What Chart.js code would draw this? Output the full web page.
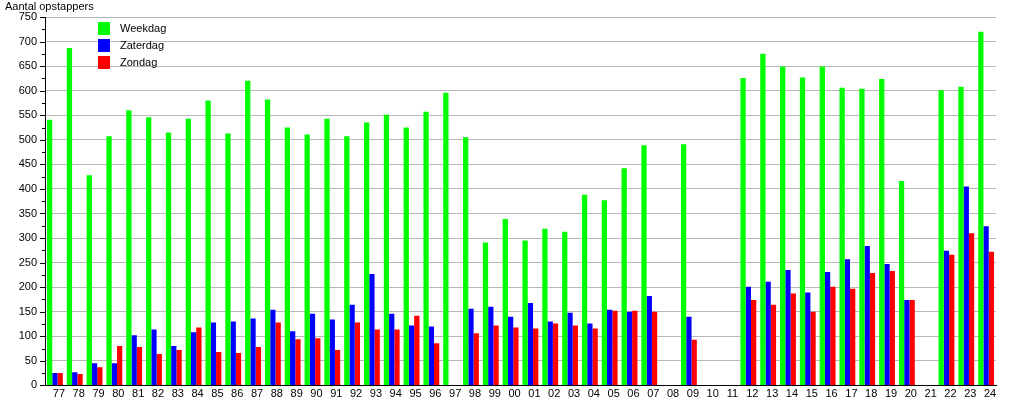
<!DOCTYPE html>
<html>
<head>
<meta charset="utf-8">
<script src="https://cdn.jsdelivr.net/npm/chart.js@4/dist/chart.umd.min.js"></script>
<style>
  html, body { margin: 0; padding: 0; background: #fff; }
  #wrap { width: 1015px; height: 400px; position: relative; }
</style>
</head>
<body>
<div id="wrap"><canvas id="myChart"></canvas></div>
<script>
var years = ['77','78','79','80','81','82','83','84','85','86','87','88','89','90','91','92','93','94','95','96','97','98','99',
             '00','01','02','03','04','05','06','07','08','09','10','11','12','13','14','15','16','17','18','19','20','21','22','23','24'];

var weekdag = [541, 687, 428, 507, 560, 546, 515, 543, 580, 513, 620, 582, 525, 511, 543, 507, 535, 551, 525, 557, 596, 505, 291,
               339, 295, 319, 313, 388, 377, 442, 489, null, 491, null, null, 626, 675, 649, 627, 649, 606, 604, 624, 416, null, 601, 608, 720];

var zaterdag = [25, 27, 45, 45, 102, 114, 80, 108, 128, 130, 136, 154, 110, 146, 134, 164, 227, 146, 122, 120, null, 156, 160,
                140, 168, 130, 148, 126, 154, 150, 182, null, 140, null, null, 201, 211, 235, 189, 231, 257, 284, 247, 174, null, 274, 405, 324];

var zondag = [25, 23, 37, 80, 78, 64, 72, 118, 68, 66, 78, 128, 94, 96, 72, 128, 114, 114, 142, 86, null, 106, 122,
              118, 116, 126, 122, 116, 152, 152, 150, null, 93, null, null, 174, 164, 187, 150, 201, 197, 229, 233, 174, null, 266, 310, 272];

var seriesNames = ['Weekdag', 'Zaterdag', 'Zondag'];
var barColors = ['#00ff00', '#0000ff', '#ff0000'];
var yTitle = 'Aantal opstappers';

var fontName = '"Liberation Sans", Arial, sans-serif';

// axis title, custom legend and y tick marks
var extras = {
    id: 'extras',
    afterDraw: function (chart) {
        var ctx = chart.ctx;
        var area = chart.chartArea;
        var y = chart.scales.y;
        ctx.save();
        ctx.fillStyle = '#000';
        ctx.font = '11px ' + fontName;
        ctx.textBaseline = 'middle';
        ctx.textAlign = 'left';
        ctx.fillText(yTitle, 5, 7);

        // tick marks on the y axis
        ctx.strokeStyle = '#000';
        ctx.lineWidth = 1;
        for (var v = 0; v <= 750; v += 25) {
            var py = Math.round(y.getPixelForValue(v)) + 0.5;
            var len = (v % 50 === 0) ? 5 : 3;
            ctx.beginPath();
            ctx.moveTo(area.left - len, py);
            ctx.lineTo(area.left, py);
            ctx.stroke();
        }

        // legend inside the plot
        for (var i = 0; i < seriesNames.length; i++) {
            var ly = 22 + i * 17;
            ctx.fillStyle = barColors[i];
            ctx.fillRect(98, ly, 12, 13);
            ctx.fillStyle = '#000';
            ctx.fillText(seriesNames[i], 120, ly + 7);
        }
        ctx.restore();
    }
};

new Chart('myChart', {
    type: 'bar',
    data: {
        labels: years,
        datasets: [
            { label: seriesNames[0], data: weekdag, backgroundColor: barColors[0] },
            { label: seriesNames[1], data: zaterdag, backgroundColor: barColors[1] },
            { label: seriesNames[2], data: zondag, backgroundColor: barColors[2] }
        ]
    },
    options: {
        responsive: true,
        maintainAspectRatio: false,
        animation: false,
        layout: { padding: { top: 17, right: 19, left: 0, bottom: 0 } },
        datasets: { bar: { categoryPercentage: 0.8, barPercentage: 1.0 } },
        plugins: {
            legend: { display: false },
            tooltip: { enabled: false }
        },
        scales: {
            x: {
                grid: { display: false, drawTicks: false },
                border: { display: true, color: '#000', width: 1 },
                ticks: {
                    color: '#000',
                    font: { family: fontName, size: 11 },
                    maxRotation: 0,
                    autoSkip: false,
                    padding: 2,
                    labelOffset: 4
                },
                afterFit: function (scale) { scale.height = 13; }
            },
            y: {
                min: 0,
                max: 750,
                grid: {
                    drawTicks: false,
                    color: function (c) { return (c.tick && c.tick.value % 50 === 0 && c.tick.value > 0) ? '#b8b8b8' : 'rgba(0,0,0,0)'; }
                },
                border: { display: true, color: '#000', width: 1 },
                ticks: {
                    stepSize: 25,
                    color: '#000',
                    padding: 8,
                    font: { family: fontName, size: 11 },
                    callback: function (v) { return v % 50 === 0 ? v : ''; }
                },
                afterFit: function (scale) { scale.width = 45; }
            }
        }
    },
    plugins: [extras]
});
</script>
</body>
</html>
